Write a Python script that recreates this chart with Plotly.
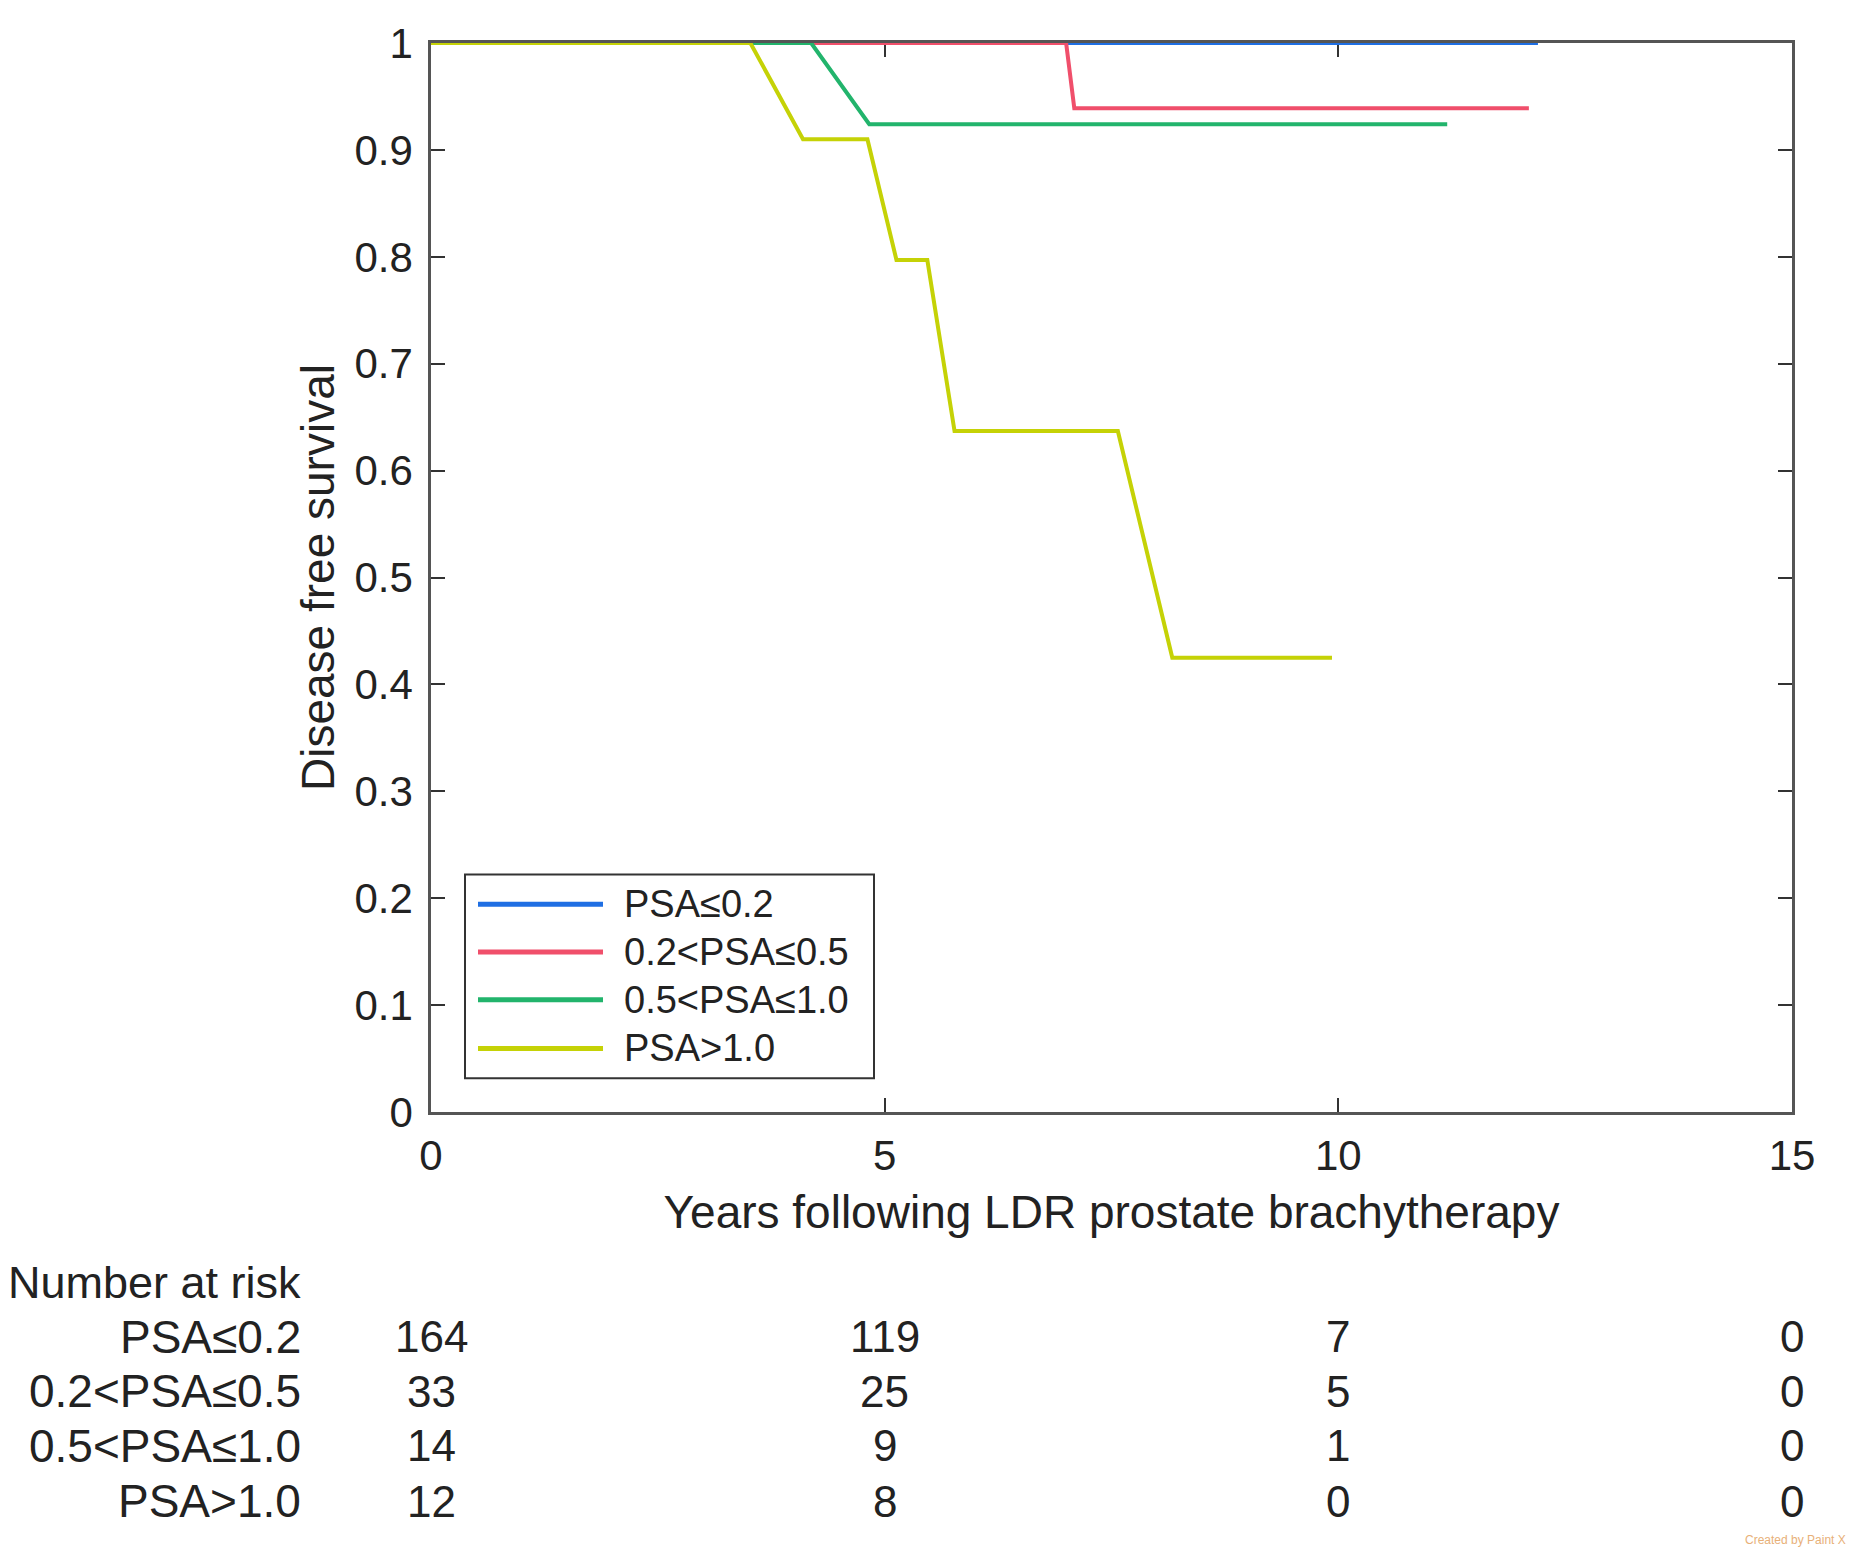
import plotly.graph_objects as go

# ---- data ----
series_names = ["PSA≤0.2", "0.2<PSA≤0.5", "0.5<PSA≤1.0", "PSA>1.0"]
series_colors = ["#1F6FE3", "#F04F6B", "#22B46C", "#C5D206"]

blue_x = [0, 12.2]
blue_y = [1, 1]
red_x = [0, 7.0, 7.09, 12.1]
red_y = [1, 1, 0.939, 0.939]
green_x = [0, 4.19, 4.83, 11.2]
green_y = [1, 1, 0.924, 0.924]
yellow_x = [0, 3.52, 4.10, 4.81, 5.13, 5.47, 5.77, 7.57, 8.17, 9.93]
yellow_y = [1, 1, 0.910, 0.910, 0.797, 0.797, 0.637, 0.637, 0.425, 0.425]

risk_times = [0, 5, 10, 15]
risk_psa_le_02 = [164, 119, 7, 0]
risk_02_05 = [33, 25, 5, 0]
risk_05_10 = [14, 9, 1, 0]
risk_gt_10 = [12, 8, 0, 0]

x_ticks = [0, 5, 10, 15]
y_ticks = [0, 0.1, 0.2, 0.3, 0.4, 0.5, 0.6, 0.7, 0.8, 0.9, 1]
y_tick_text = ["0", "0.1", "0.2", "0.3", "0.4", "0.5", "0.6", "0.7", "0.8", "0.9", "1"]

FONT = "Liberation Sans, Arial, Helvetica, sans-serif"
PAGE_W, PAGE_H = 1858, 1559
OFF = 8  # default page body margin
W, H = PAGE_W - OFF, PAGE_H - OFF
L, R, T, B = 431, 1792, 36, 1112  # plot area in page pixels


def px(xp):
    return (xp - L) / (R - L)


def py(yp):
    return (B - yp) / (B - T)


fig = go.Figure()
curves = [(blue_x, blue_y), (red_x, red_y), (green_x, green_y), (yellow_x, yellow_y)]
for (xs, ys), name, col in zip(curves, series_names, series_colors):
    fig.add_trace(go.Scatter(x=xs, y=ys, mode="lines", name=name,
                             line=dict(color=col, width=4), showlegend=False))

shapes = []
annotations = []

# legend box (manual, MATLAB style)
shapes.append(dict(type="rect", xref="paper", yref="paper",
                   x0=px(465), x1=px(874), y0=py(1078), y1=py(873),
                   line=dict(color="#333333", width=2), fillcolor="white", layer="above"))
legend_rows = [903, 951, 999, 1048]
for name, col, yrow in zip(series_names, series_colors, legend_rows):
    shapes.append(dict(type="line", xref="paper", yref="paper",
                       x0=px(478), x1=px(603), y0=py(yrow), y1=py(yrow),
                       line=dict(color=col, width=5), layer="above"))
    annotations.append(dict(text=name, xref="paper", yref="paper", x=px(622), y=py(yrow),
                            xanchor="left", yanchor="middle", showarrow=False,
                            font=dict(family=FONT, size=38, color="#222222")))

# number at risk table
annotations.append(dict(text="Number at risk", xref="paper", yref="paper", x=px(303), y=py(1284),
                        xanchor="right", yanchor="middle", showarrow=False,
                        font=dict(family=FONT, size=45, color="#222222")))
risk_rows = [risk_psa_le_02, risk_02_05, risk_05_10, risk_gt_10]
risk_row_y = [1338, 1393, 1448, 1504]
for name, vals, yrow in zip(series_names, risk_rows, risk_row_y):
    annotations.append(dict(text=name, xref="paper", yref="paper", x=px(303), y=py(yrow),
                            xanchor="right", yanchor="middle", showarrow=False,
                            font=dict(family=FONT, size=46, color="#222222")))
    for t, v in zip(risk_times, vals):
        annotations.append(dict(text=str(v), xref="x", yref="paper", x=t, y=py(yrow),
                                xanchor="center", yanchor="middle", showarrow=False,
                                font=dict(family=FONT, size=44, color="#222222")))

annotations.append(dict(text="Created by Paint X", xref="paper", yref="paper",
                        x=px(1848), y=py(1543), xanchor="right", yanchor="middle",
                        showarrow=False, font=dict(family=FONT, size=12, color="#E8B078")))

fig.update_layout(
    width=W, height=H,
    margin=dict(l=L - OFF, r=PAGE_W - R, t=T - OFF, b=PAGE_H - B, pad=0),
    paper_bgcolor="white", plot_bgcolor="white",
    font=dict(family=FONT, size=42, color="#222222"),
    showlegend=False,
    shapes=shapes, annotations=annotations,
    xaxis=dict(range=[0, 15], tickvals=x_ticks, ticks="inside", ticklen=14, tickwidth=2,
               tickcolor="#333333", showline=True, linecolor="#555555", linewidth=2.5,
               mirror="ticks", showgrid=False, zeroline=False, layer="below traces",
               ticklabelstandoff=5,
               tickfont=dict(family=FONT, size=42, color="#222222"),
               title=dict(text="Years following LDR prostate brachytherapy",
                          font=dict(family=FONT, size=46, color="#222222"), standoff=18)),
    yaxis=dict(range=[0, 1], tickvals=y_ticks, ticktext=y_tick_text, ticks="inside", ticklen=14,
               tickwidth=2, tickcolor="#333333", showline=True, linecolor="#555555", linewidth=2.5,
               mirror="ticks", showgrid=False, zeroline=False, layer="below traces",
               ticklabelstandoff=7,
               tickfont=dict(family=FONT, size=42, color="#222222"),
               title=dict(text="Disease free survival",
                          font=dict(family=FONT, size=46, color="#222222"), standoff=6)),
)

fig.write_html("out.html")
